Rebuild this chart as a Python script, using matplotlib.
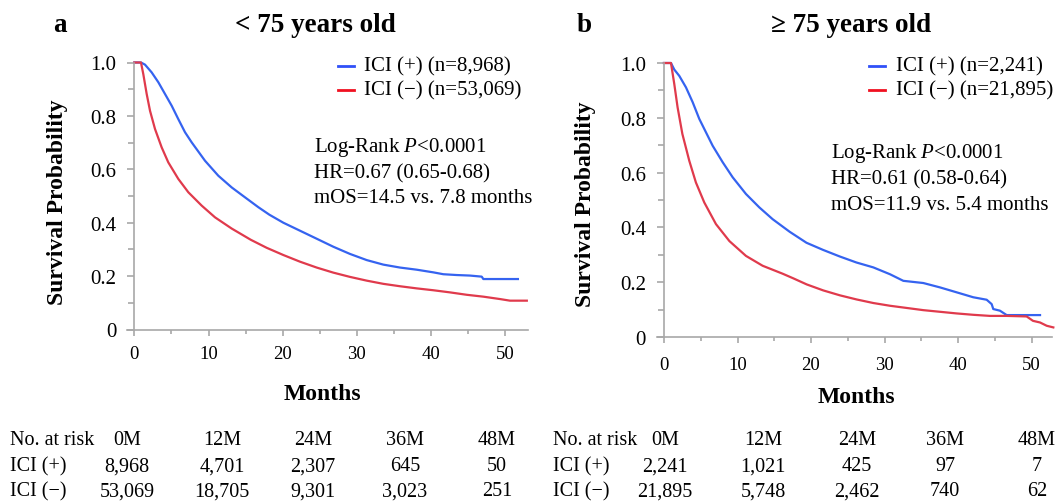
import matplotlib
matplotlib.use("Agg")
import matplotlib.pyplot as plt
from matplotlib.ticker import MultipleLocator

plt.rcParams["font.family"] = ["Liberation Serif", "DejaVu Serif"]
plt.rcParams["mathtext.fontset"] = "custom"
plt.rcParams["mathtext.it"] = "Liberation Serif:italic"
plt.rcParams["mathtext.rm"] = "Liberation Serif"

# ---- data (months, survival probability) ----
a_pos_t = [0, 0.9, 1.44, 2.34, 3.24, 4.14, 5.04, 5.93, 6.83, 7.73, 9.53, 11.32, 13.13,
           14.92, 16.72, 18.2, 20.08, 22.33, 24.58, 26.82, 29.07, 31.32, 33.56, 35.81,
           38.06, 40.3, 41.65, 43.45, 45.24, 46.82, 47.04, 51.7]
a_pos_s = [1.0, 1.0, 0.992, 0.963, 0.926, 0.882, 0.838, 0.788, 0.739, 0.701, 0.632, 0.576,
           0.532, 0.495, 0.458, 0.43, 0.40, 0.37, 0.34, 0.31, 0.283, 0.26, 0.243,
           0.232, 0.224, 0.214, 0.207, 0.204, 0.202, 0.198, 0.189, 0.189]
a_neg_t = [0, 0.9, 1.21, 1.67, 2.12, 2.79, 3.69, 4.58, 5.93, 7.28, 9.08, 10.88, 13.13,
           15.7, 17.84, 20.08, 22.33, 24.58, 26.82, 29.07, 31.32, 33.56, 35.81, 38.06,
           40.3, 42.55, 44.8, 47.04, 49.29, 50.63, 52.9]
a_neg_s = [1.0, 1.0, 0.957, 0.882, 0.819, 0.751, 0.682, 0.626, 0.564, 0.514, 0.464, 0.42,
           0.378, 0.336, 0.306, 0.279, 0.254, 0.232, 0.213, 0.197, 0.183, 0.171, 0.162,
           0.154, 0.147, 0.139, 0.13, 0.123, 0.114, 0.108, 0.108]

b_pos_t = [0, 0.95, 1.4, 2.08, 2.99, 3.9, 4.8, 5.71, 6.62, 7.98, 9.34, 11.15, 12.97,
           14.78, 17.1, 19.38, 21.63, 23.9, 26.17, 28.48, 30.75, 32.56, 35.28, 37.55,
           39.82, 42.08, 43.9, 44.58, 44.8, 45.71, 46.62, 51.16]
b_pos_s = [1.0, 1.0, 0.976, 0.953, 0.911, 0.857, 0.796, 0.747, 0.698, 0.638, 0.583, 0.522,
           0.473, 0.43, 0.384, 0.344, 0.318, 0.294, 0.272, 0.254, 0.229, 0.205, 0.197,
           0.181, 0.163, 0.145, 0.136, 0.12, 0.102, 0.096, 0.08, 0.08]
b_neg_t = [0, 0.95, 1.4, 1.85, 2.5, 3.44, 4.34, 5.48, 7.07, 8.9, 11.15, 13.42, 16.14,
           17.6, 19.41, 21.67, 23.94, 26.21, 28.48, 30.75, 33.02, 35.28, 37.55, 39.82,
           42.08, 44.35, 46.62, 49.34, 50.2, 51.16, 52.07, 52.97]
b_neg_s = [1.0, 1.0, 0.923, 0.838, 0.741, 0.643, 0.564, 0.491, 0.412, 0.35, 0.296, 0.26,
           0.231, 0.214, 0.192, 0.17, 0.152, 0.137, 0.124, 0.114, 0.106, 0.098, 0.092,
           0.086, 0.081, 0.077, 0.077, 0.075, 0.059, 0.053, 0.041, 0.035]

risk_cols = ["0M", "12M", "24M", "36M", "48M"]
a_risk_pos = ["8,968", "4,701", "2,307", "645", "50"]
a_risk_neg = ["53,069", "18,705", "9,301", "3,023", "251"]
b_risk_pos = ["2,241", "1,021", "425", "97", "7"]
b_risk_neg = ["21,895", "5,748", "2,462", "740", "62"]

BLUE = "#3563F0"
RED = "#E03A4C"
GREY = "#A8A8A8"

W, H = 1061, 502
fig = plt.figure(figsize=(W / 100, H / 100), dpi=100)


def px(x, y):
    return x / W, 1 - y / H


def setup_axes(rect, xmax, xpad):
    ax = fig.add_axes(rect)
    ax.set_xlim(-1, xmax)
    ax.set_ylim(0, 1.0)
    ax.spines["left"].set_position(("data", 0))
    for s in ["top", "right"]:
        ax.spines[s].set_visible(False)
    for s in ["left", "bottom"]:
        ax.spines[s].set_color(GREY)
        ax.spines[s].set_linewidth(1.2)
    ax.xaxis.set_major_locator(MultipleLocator(10))
    ax.xaxis.set_minor_locator(MultipleLocator(5))
    ax.yaxis.set_minor_locator(MultipleLocator(0.1))
    ax.set_yticks([0, 0.2, 0.4, 0.6, 0.8, 1.0])
    ax.set_yticklabels(["0", "0.2", "0.4", "0.6", "0.8", "1.0"])
    ax.tick_params(which="both", direction="out", color=GREY, width=1.2)
    ax.tick_params(axis="x", which="major", length=4, pad=xpad, labelsize=13.5)
    ax.tick_params(axis="x", which="minor", length=3)
    ax.tick_params(axis="y", which="major", length=5, pad=8, labelsize=15)
    ax.tick_params(axis="y", which="minor", length=4)
    ax.patch.set_alpha(0)
    return ax


# panel a
ax_a = setup_axes([(134.3 - 7.42) / W, 1 - 330.5 / H, (54.1 * 7.42) / W, 267 / H], 53.1, 7)
ax_a.plot(a_pos_t, a_pos_s, color=BLUE, lw=1.6, clip_on=False)
ax_a.plot(a_neg_t, a_neg_s, color=RED, lw=1.6, clip_on=False)

# panel b
ax_b = setup_axes([(664 - 7.35) / W, 1 - 338 / H, (53.8 * 7.35) / W, 274 / H], 52.8, 10)
ax_b.plot(b_pos_t, b_pos_s, color=BLUE, lw=1.6, clip_on=False)
ax_b.plot(b_neg_t, b_neg_s, color=RED, lw=1.6, clip_on=False)

# titles, panel letters, axis labels
fig.text(*px(60, 25), "a", fontsize=19.5, fontweight="bold", ha="center", va="center")
fig.text(*px(315, 25), "< 75 years old", fontsize=19.5, fontweight="bold", ha="center", va="center")
fig.text(*px(584, 25), "b", fontsize=19.5, fontweight="bold", ha="center", va="center")
fig.text(*px(851, 25), "\u2265 75 years old", fontsize=19.5, fontweight="bold", ha="center", va="center")

fig.text(*px(57, 202), "Survival Probability", fontsize=17, fontweight="bold",
         rotation=90, ha="center", va="center")
fig.text(*px(586, 204), "Survival Probability", fontsize=17, fontweight="bold",
         rotation=90, ha="center", va="center")
fig.text(*px(322, 395), "Months", fontsize=17, fontweight="bold", ha="center", va="center")
fig.text(*px(856, 398), "Months", fontsize=17, fontweight="bold", ha="center", va="center")

# legends
legends = [
    (338, 364, ["ICI (+) (n=8,968)", "ICI (\u2212) (n=53,069)"]),
    (869, 896, ["ICI (+) (n=2,241)", "ICI (\u2212) (n=21,895)"]),
]
for lx, tx, labels in legends:
    for row, (lab, col) in enumerate(zip(labels, ["#3050F8", "#F01020"])):
        y = 67 + row * 23.5
        fig.add_artist(plt.Line2D([lx / W, (lx + 16) / W], [1 - y / H, 1 - y / H],
                                  color=col, lw=2, transform=fig.transFigure))
        fig.text(*px(tx, y), lab, fontsize=15, ha="left", va="center")

# stats annotations
for x0, y0, hr, mos in [(314, 148, "HR=0.67 (0.65-0.68)", "mOS=14.5 vs. 7.8 months"),
                        (831, 154, "HR=0.61 (0.58-0.64)", "mOS=11.9 vs. 5.4 months")]:
    fig.text(*px(x0, y0), r"Log-Rank $\it{P}$<0.0001", fontsize=15, ha="left", va="center")
    fig.text(*px(x0, y0 + 25.5), hr, fontsize=15, ha="left", va="center")
    fig.text(*px(x0, y0 + 51), mos, fontsize=15, ha="left", va="center")

# risk tables
tables = [
    (10, [127, 222, 313, 405, 497], a_risk_pos, a_risk_neg),
    (553, [665, 763, 857, 945, 1037], b_risk_pos, b_risk_neg),
]
for x0, cols, pos, neg in tables:
    fig.text(*px(x0, 441), "No. at risk", fontsize=14.5, ha="left", va="center")
    fig.text(*px(x0, 467), "ICI (+)", fontsize=14.5, ha="left", va="center")
    fig.text(*px(x0, 492), "ICI (\u2212)", fontsize=14.5, ha="left", va="center")
    for cx, c, p, n in zip(cols, risk_cols, pos, neg):
        fig.text(*px(cx, 441), c, fontsize=14.5, ha="center", va="center")
        fig.text(*px(cx, 467), p, fontsize=14.5, ha="center", va="center")
        fig.text(*px(cx, 492), n, fontsize=14.5, ha="center", va="center")

fig.savefig("out.png", dpi=100)
